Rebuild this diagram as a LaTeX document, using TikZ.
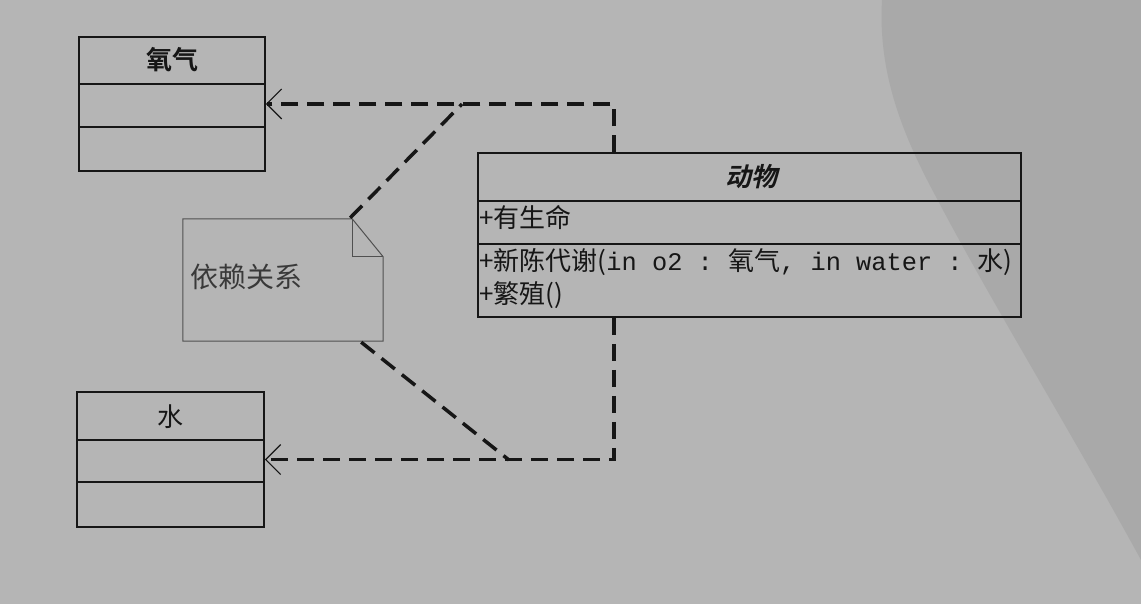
\documentclass[tikz,border=0pt]{standalone}
\usepackage{fontspec}
\setmainfont{Noto Sans CJK SC}[BoldFont={Noto Sans CJK SC Bold}]
\newfontfamily\slantbold{Noto Sans CJK SC Bold}[FakeSlant=0.22]
\setmonofont{Liberation Mono}[Scale=0.975]
\usetikzlibrary{arrows.meta,positioning,calc}
\definecolor{paper}{RGB}{181,181,181}
\definecolor{stain}{RGB}{169,169,169}
\definecolor{ink}{RGB}{22,22,22}
\tikzset{
  classbox/.style={draw=ink,line width=1.6pt,inner sep=0pt},
  dep/.style={draw=ink,line width=3.5pt,dash pattern=on 17pt off 9pt},
  opentip/.style={-{Straight Barb[length=15pt,width=30pt,line width'=1.2pt]}},
  member/.style={anchor=west,inner sep=2pt,font=\fontsize{26}{30}\selectfont,text=ink},
  cname/.style={inner sep=0pt,font=\fontsize{26}{30}\selectfont\bfseries,text=ink}
}

\begin{document}
\begin{tikzpicture}[x=1pt,y=-1pt]
% Background
\fill[paper] (0,0) rectangle (1141,604);
\fill[stain] (882,0) .. controls (878,70) and (900,130) .. (935,195) .. controls (990,300) and (1070,430) .. (1141,560) -- (1141,0) -- cycle;

% Class: oxygen
\node[classbox,minimum width=186,minimum height=134] (oxy) at (172,104) {};
\node[cname] (oxyname) at (172,60) {氧气};
\draw[classbox] ($(oxy.north west)+(0,48)$) -- ($(oxy.north east)+(0,48)$);
\draw[classbox] ($(oxy.north west)+(0,91)$) -- ($(oxy.north east)+(0,91)$);

% Class: water
\node[classbox,minimum width=187,minimum height=135] (water) at (170.5,459.5) {};
\node[cname,font=\fontsize{26}{30}\selectfont] (watername) at (170.5,417) {水};
\draw[classbox] ($(water.north west)+(0,49)$) -- ($(water.north east)+(0,49)$);
\draw[classbox] ($(water.north west)+(0,91)$) -- ($(water.north east)+(0,91)$);

% Class: animal
\node[classbox,minimum width=543,minimum height=164] (animal) at (749.5,235) {};
\node[cname,font=\fontsize{26}{30}\slantbold] (animalname) at (751,177) {动物};
\draw[classbox] ($(animal.north west)+(0,49)$) -- ($(animal.north east)+(0,49)$);
\draw[classbox] ($(animal.north west)+(0,92)$) -- ($(animal.north east)+(0,92)$);
\node[member] (life) at (477,217) {+有生命};
\node[member] (meta) at (477,262) {+新陈代谢(\texttt{in o2 : }氧气\texttt{, in water  : }水)};
\node[member] (breed) at (477,295) {+繁殖()};

% Note
\node[minimum width=200,minimum height=122,inner sep=0pt] (note) at (283,280) {};
\draw[draw=ink!75,line width=1pt] (note.south west) -- (note.north west) -- ($(note.north east)+(-31,0)$) -- ($(note.north east)+(0,38)$) -- (note.south east) -- cycle;
\draw[draw=ink!75,line width=1pt] ($(note.north east)+(-31,0)$) -- ($(note.north east)+(-31,38)$) -- ($(note.north east)+(0,38)$);
\node[member,font=\fontsize{28}{32}\selectfont,text=ink!85] (notetext) at ($(note.west)+(5,-3)$) {依赖关系};

% Dependencies
\coordinate (oxyturn) at (462,104);
\coordinate (waterturn) at (509,460);
\draw[dep,opentip] ($(animal.north west)+(137,0)$) |- (oxy.east);
\draw[dep] ($(note.north east)+(-33,-1)$) -- (oxyturn);
\draw[dep,opentip] ($(animal.south west)+(137,0)$) |- (water.east);
\draw[dep] ($(note.south east)+(-22,1)$) -- (waterturn);
\end{tikzpicture}
\end{document}
